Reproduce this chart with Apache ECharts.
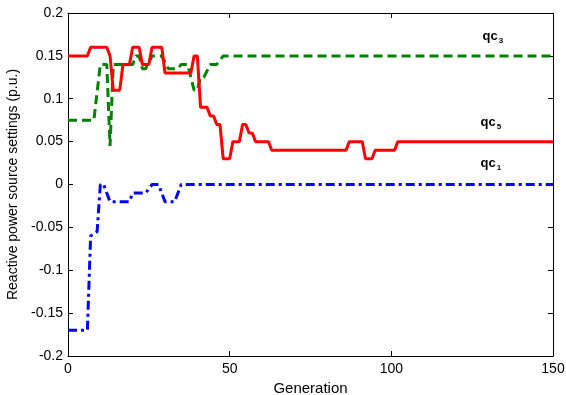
<!DOCTYPE html>
<html>
<head>
<meta charset="utf-8">
<script src="https://cdn.jsdelivr.net/npm/echarts@6/dist/echarts.min.js"></script>
<style>html,body{margin:0;padding:0;background:#fff;}#c{width:566px;height:395px;}</style>
</head>
<body>
<div id="c"></div>
<script>
// Data: [generation, value]
var qc5 = [[0,0.15],[6,0.15],[7,0.16],[12,0.16],[13,0.15],[14,0.11],[16,0.11],[17,0.14],[19,0.14],[20,0.16],[22,0.16],[23,0.14],[25,0.14],[26,0.16],[29,0.16],[30,0.13],[38,0.13],[39,0.15],[40,0.15],[41,0.09],[43,0.09],[44,0.08],[45,0.08],[46,0.07],[47,0.07],[48,0.03],[50,0.03],[51,0.05],[53,0.05],[54,0.07],[55,0.07],[56,0.06],[57,0.06],[58,0.05],[62,0.05],[63,0.04],[86,0.04],[87,0.05],[91,0.05],[92,0.03],[94,0.03],[95,0.04],[101,0.04],[102,0.05],[150,0.05]];
var qc3 = [[0,0.075],[8,0.075],[10,0.14],[12,0.14],[13,0.045],[14,0.14],[20,0.14],[21,0.15],[22,0.15],[23,0.135],[24,0.135],[26,0.15],[29,0.15],[31,0.135],[34,0.135],[35,0.14],[37,0.14],[39,0.11],[40,0.11],[41,0.125],[42,0.125],[44,0.14],[46,0.14],[48,0.15],[150,0.15]];
var qc1 = [[0,-0.17],[6,-0.17],[7,-0.06],[9,-0.055],[10,0],[11,0],[13,-0.02],[19,-0.02],[20,-0.01],[24,-0.01],[26,0],[28,0],[30,-0.02],[33,-0.02],[35,0],[150,0]];
var xTicks = [0, 50, 100, 150];
var yMin = -0.2, yMax = 0.2, yStep = 0.05;
var labels = [
  {name:'3', coord:[131.4, 0.1725]},
  {name:'5', coord:[130.8, 0.072]},
  {name:'1', coord:[130.8, 0.025]}
];

var font = 'Liberation Sans, Arial, Helvetica, sans-serif';
var chart = echarts.init(document.getElementById('c'), null, {renderer:'canvas'});
function lbl(l){
  return {
    data:[{coord:l.coord, value:l.name}],
    symbol:'circle', symbolSize:0,
    label:{show:true, position:'inside', formatter:'{a|qc}{b|' + l.name + '}',
      rich:{a:{fontFamily:font, fontWeight:'bold', fontSize:13, color:'#000'},
            b:{fontFamily:font, fontWeight:'bold', fontSize:8, color:'#000', verticalAlign:'bottom', padding:[9,0,0,1]}}},
    silent:true
  };
}
function ax(extra){
  return Object.assign({
    axisLine:{show:true, onZero:false, lineStyle:{color:'#000', width:1}},
    axisTick:{show:true, inside:true, length:5, lineStyle:{color:'#000'}},
    splitLine:{show:false}
  }, extra);
}
chart.setOption({
  animation:false,
  backgroundColor:'#fff',
  grid:{left:68, right:13, top:13, bottom:39, containLabel:false, outerBoundsMode:'none'},
  xAxis:[
    ax({type:'value', min:xTicks[0], max:xTicks[xTicks.length-1], interval:50, position:'bottom',
      name:'Generation', nameLocation:'middle', nameGap:19,
      nameTextStyle:{fontFamily:font, fontSize:15, color:'#000'},
      axisLabel:{fontFamily:font, fontSize:14, color:'#000', margin:6}}),
    ax({type:'value', min:xTicks[0], max:xTicks[xTicks.length-1], interval:50, position:'top',
      axisLabel:{show:false}})
  ],
  yAxis:[
    ax({type:'value', min:yMin, max:yMax, interval:yStep, position:'left',
      name:'Reactive power source settings (p.u.)', nameLocation:'middle', nameGap:46,
      nameTextStyle:{fontFamily:font, fontSize:14, color:'#000'},
      axisLabel:{fontFamily:font, fontSize:14, color:'#000', margin:5}}),
    ax({type:'value', min:yMin, max:yMax, interval:yStep, position:'right',
      axisLabel:{show:false}})
  ],
  series:[
    {type:'line', name:'qc3', data:qc3, symbol:'none', lineStyle:{color:'#008000', width:3, type:[9,5]}, markPoint:lbl(labels[0]), z:3},
    {type:'line', name:'qc5', data:qc5, symbol:'none', lineStyle:{color:'#ff0000', width:3, type:'solid'}, markPoint:lbl(labels[1]), z:4},
    {type:'line', name:'qc1', data:qc1, symbol:'none', lineStyle:{color:'#0000ff', width:3, type:[9,4,3,4]}, markPoint:lbl(labels[2]), z:2}
  ]
});
</script>
</body>
</html>
